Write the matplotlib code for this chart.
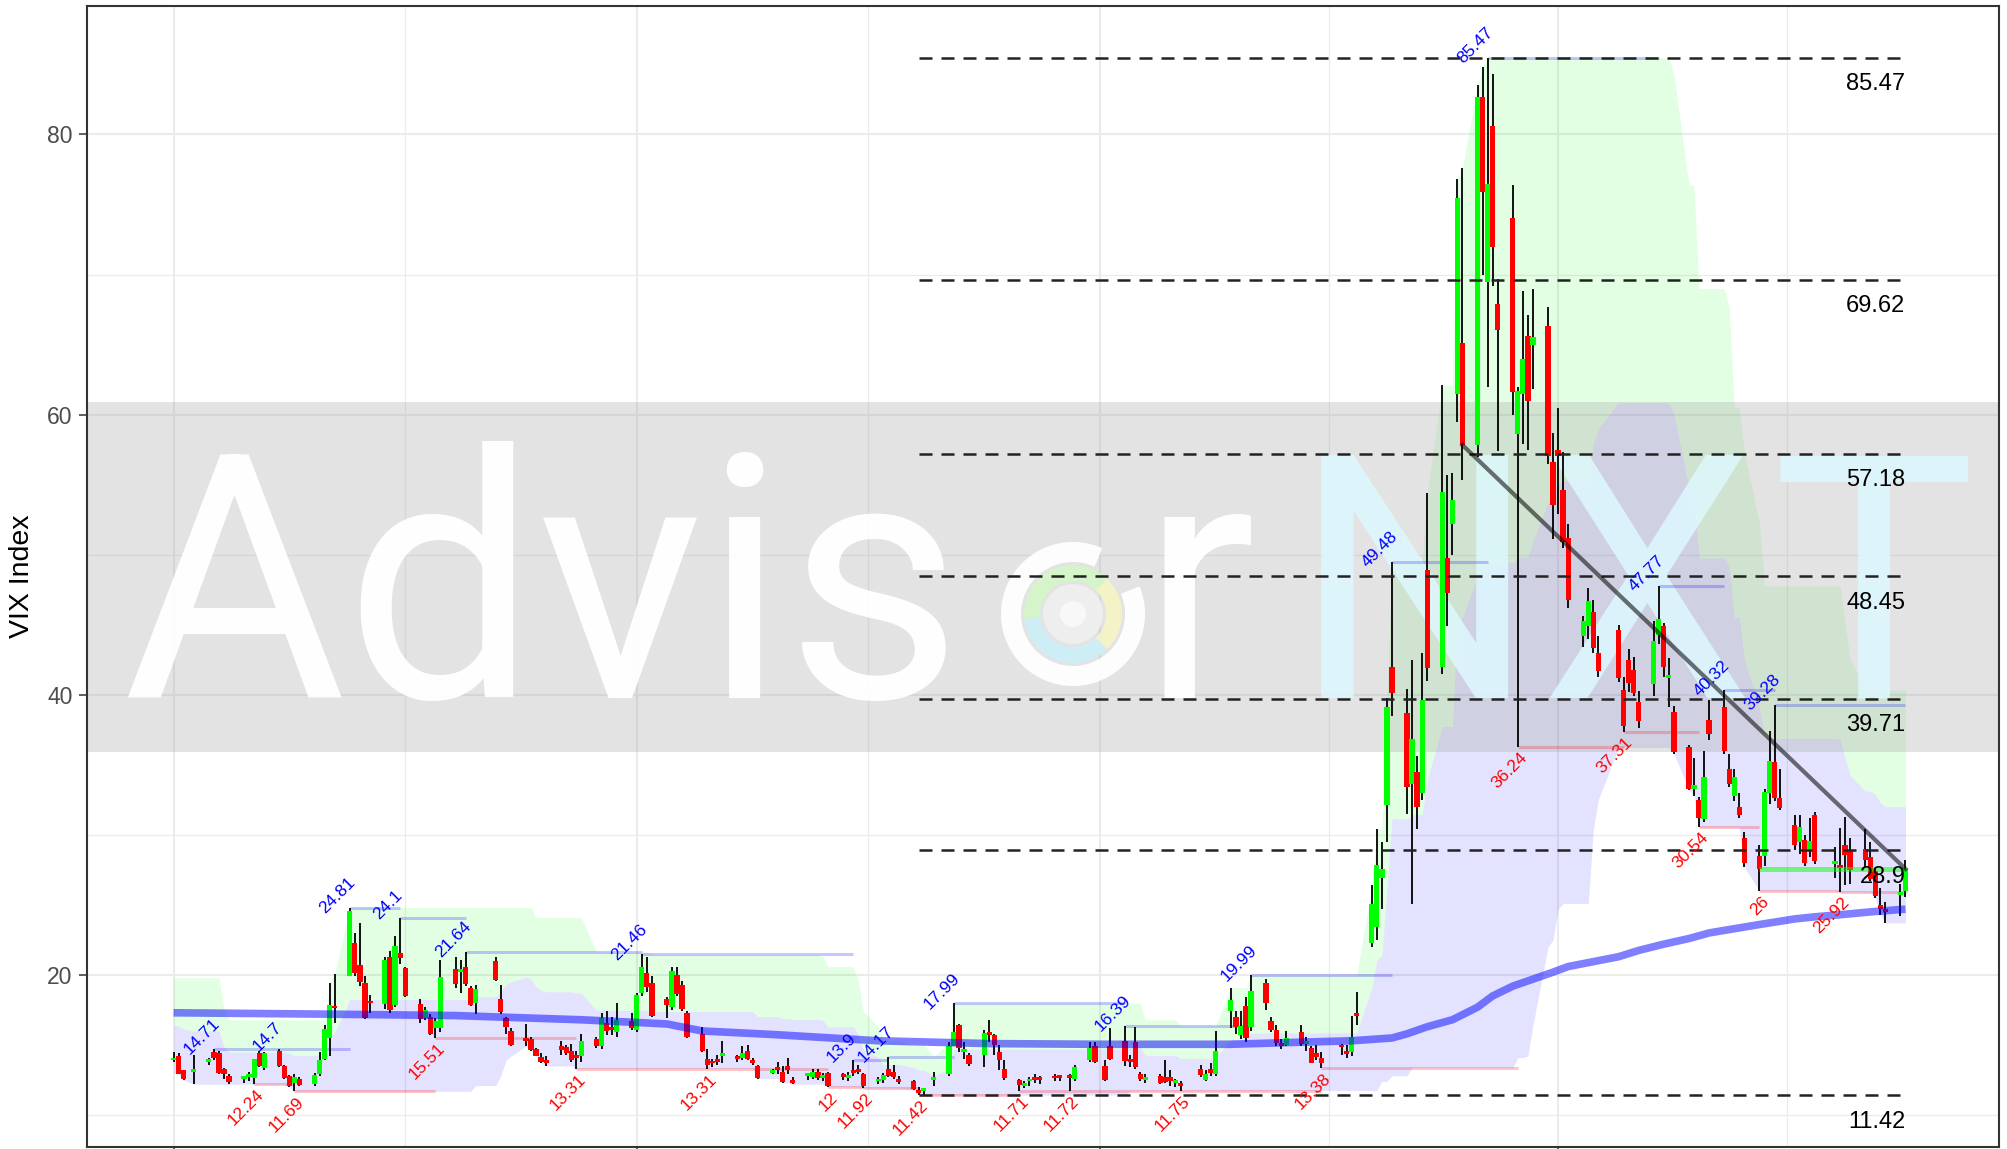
import numpy as np
import pandas as pd
import matplotlib
matplotlib.use("Agg")
import matplotlib.pyplot as plt
import matplotlib.dates as mdates
from matplotlib.patches import Ellipse, Arc

plt.rcParams["font.family"] = ["Liberation Sans", "DejaVu Sans"]

# ===============================
# DATA (VIX daily OHLC)
# ===============================
first_day = "2019-07-01"
last_day = "2020-06-09"
holidays = ["2019-07-04", "2019-09-02", "2019-11-28", "2019-12-25", "2020-01-01",
            "2020-01-20", "2020-02-17", "2020-04-10", "2020-05-25"]

opens = [
    13.90, 14.20, 13.20, 13.10, 13.80, 14.49, 14.45, 13.30, 12.80, 12.60, 12.70, 12.66, 14.44, 13.37, 14.56, 13.50, 12.77, 12.30, 12.59, 12.20, 12.90, 13.97,
    15.51, 17.80, 19.95, 22.30, 20.70, 19.40, 18.10, 17.90, 21.30, 17.85, 21.60, 20.50, 17.96, 16.90, 17.00, 16.20, 16.20, 20.40, 20.20, 20.60, 19.10, 18.00,
    21.00, 18.30, 16.94, 15.98, 15.45, 15.45, 14.70, 14.16, 13.90, 14.90, 14.85, 14.55, 14.30, 14.20, 15.40, 14.90, 16.60, 16.10, 15.90, 16.70,
    16.10, 18.70, 20.15, 19.40, 18.30, 17.70, 20.00, 19.30, 17.30, 15.80, 14.00, 13.75, 13.90, 14.20, 14.10, 14.10, 14.60, 13.90, 13.50, 13.00, 13.25, 13.10, 13.50,
    12.50, 12.80, 12.70, 13.10, 12.65, 13.00, 12.90, 12.65, 13.10, 13.30, 12.95, 12.40, 12.50, 13.30, 13.10, 12.60, 12.40, 11.80, 11.70, 12.50,
    12.90, 14.95, 16.40, 14.50, 14.30, 14.30, 15.90, 15.70, 14.50, 13.30, 12.50, 12.10, 12.40, 12.60, 12.55, 12.70, 12.70, 12.70, 12.60, 13.90, 14.90,
    13.50, 14.90, 15.30, 13.90, 15.20, 12.90, 12.50, 12.80, 12.75, 12.70, 12.30, 12.20, 13.30, 12.50, 13.30, 12.90, 17.40, 17.00, 15.70, 17.80, 16.30,
    19.40, 16.70, 16.10, 15.10, 15.00, 15.90, 15.10, 14.80, 14.40, 14.10, 14.90, 14.60, 14.50, 17.20, 22.30, 23.40, 26.90, 32.10, 41.95,
    38.70, 33.60, 34.50, 33.00, 48.90, 41.95, 49.80, 52.20, 61.50, 65.10, 57.80, 82.70, 69.50, 80.60, 67.90, 74.05, 58.60, 61.45, 65.60, 65.00, 66.30, 56.60,
    57.50, 54.60, 51.20, 44.20, 44.90, 45.90, 43.00, 44.60, 40.34, 42.50, 41.80, 39.50, 40.80, 44.30, 44.90, 41.20, 38.80, 36.30, 33.30, 32.50, 31.10,
    38.20, 39.10, 34.70, 32.80, 32.00, 29.80, 28.50, 28.50, 33.00, 35.20, 32.60, 30.70, 29.50, 29.60, 29.00, 31.40, 27.90, 27.70, 29.30, 28.90,
    29.00, 28.40, 27.40, 25.00, 24.60, 25.70, 26.00,
]
highs = [
    14.50, 14.44, 13.25, 14.30, 14.05, 14.71, 14.60, 13.35, 12.90, 12.80, 13.10, 14.00, 14.56, 14.50, 14.70, 13.60, 12.85, 12.90, 12.70, 13.00, 14.50, 16.40,
    19.40, 20.10, 24.81, 23.00, 23.70, 19.90, 18.60, 21.30, 21.70, 22.76, 24.10, 20.60, 18.25, 17.70, 17.20, 16.90, 21.10, 21.30, 21.10, 21.64, 19.20, 19.30,
    21.30, 19.30, 17.00, 16.20, 16.50, 15.60, 14.80, 14.40, 14.20, 15.30, 15.00, 15.10, 14.60, 15.80, 15.60, 17.30, 17.40, 17.00, 18.00, 17.30,
    18.70, 21.46, 21.30, 19.90, 18.40, 20.60, 20.60, 19.60, 17.40, 16.30, 14.70, 14.00, 14.30, 15.30, 14.30, 14.90, 15.00, 14.10, 13.60, 13.30, 13.80, 13.50, 14.10,
    12.70, 13.00, 13.30, 13.30, 13.00, 13.10, 13.00, 13.10, 13.90, 13.60, 13.00, 12.70, 13.00, 14.17, 13.60, 12.80, 12.50, 12.00, 11.80, 13.10,
    15.20, 17.99, 16.50, 15.20, 14.40, 16.10, 16.80, 15.80, 15.00, 13.90, 12.60, 12.40, 12.70, 12.90, 12.80, 12.90, 12.80, 12.90, 13.60, 15.20, 15.20,
    13.90, 16.20, 16.39, 14.30, 16.30, 13.10, 12.90, 12.90, 13.90, 13.20, 12.60, 12.40, 13.60, 13.20, 13.70, 16.00, 19.10, 17.40, 17.40, 18.40, 19.99,
    19.70, 17.00, 16.40, 15.40, 16.00, 16.40, 15.60, 14.90, 15.00, 14.50, 15.10, 15.00, 17.10, 18.80, 26.40, 30.40, 29.50, 39.80, 49.48,
    40.40, 42.50, 35.60, 43.00, 54.40, 62.10, 55.70, 55.80, 76.80, 77.60, 83.56, 84.80, 85.47, 84.30, 69.70, 76.40, 62.00, 68.80, 67.10, 69.00, 67.70, 58.70,
    60.50, 57.30, 52.20, 45.60, 47.60, 46.80, 44.20, 45.00, 41.30, 43.30, 42.70, 40.30, 45.30, 47.77, 45.10, 42.60, 39.20, 36.40, 35.50, 32.70, 36.00,
    39.60, 40.32, 35.80, 34.70, 33.00, 30.20, 29.30, 33.30, 37.40, 39.28, 34.70, 31.40, 31.40, 30.00, 31.20, 31.60, 29.10, 30.50, 31.30, 29.80,
    30.40, 29.50, 27.60, 26.20, 25.20, 26.50, 28.20,
]
lows = [
    13.75, 12.90, 12.50, 12.20, 13.55, 13.90, 12.90, 12.60, 12.25, 12.30, 12.40, 12.24, 13.40, 13.20, 13.40, 12.55, 12.00, 11.69, 12.10, 12.10, 12.80, 13.90,
    14.20, 16.60, 19.90, 19.90, 19.20, 16.87, 17.30, 17.60, 17.30, 17.70, 20.80, 18.40, 16.60, 16.80, 15.70, 15.51, 15.90, 19.10, 18.70, 19.20, 17.80, 17.20,
    19.60, 17.20, 15.80, 14.90, 14.90, 14.60, 14.20, 13.70, 13.50, 14.30, 14.30, 13.80, 13.31, 13.80, 14.80, 14.70, 15.70, 15.70, 15.60, 16.10,
    15.90, 18.50, 18.80, 17.00, 16.90, 17.50, 18.50, 17.40, 15.50, 14.50, 13.31, 13.40, 13.60, 13.70, 13.80, 13.90, 13.90, 13.60, 12.60, 12.90, 12.90, 12.30, 12.90,
    12.20, 12.50, 12.60, 12.50, 12.40, 12.00, 12.50, 12.40, 12.80, 12.90, 11.92, 12.20, 12.30, 12.70, 12.60, 12.20, 11.80, 11.42, 11.45, 12.10,
    12.80, 14.90, 14.50, 14.00, 13.50, 13.40, 15.20, 14.30, 13.20, 12.50, 11.71, 11.90, 12.10, 12.30, 12.20, 12.40, 12.40, 11.72, 12.40, 13.80, 13.70,
    12.40, 13.90, 13.50, 13.40, 13.30, 12.40, 12.30, 12.20, 12.30, 12.10, 12.00, 11.75, 12.70, 12.40, 12.80, 12.80, 16.20, 15.80, 15.40, 15.20, 16.00,
    17.50, 15.90, 14.90, 14.70, 14.90, 14.90, 14.60, 13.70, 13.90, 13.38, 14.30, 14.10, 14.20, 16.40, 22.00, 22.50, 24.70, 29.50, 38.50,
    31.50, 25.10, 30.40, 32.50, 41.00, 41.50, 44.90, 50.00, 59.50, 55.30, 57.00, 70.00, 62.00, 69.20, 57.40, 60.00, 36.24, 57.90, 57.50, 61.80, 56.50, 51.10,
    52.90, 50.50, 46.20, 43.40, 44.00, 43.00, 41.30, 40.90, 37.31, 40.20, 39.90, 37.60, 39.90, 43.60, 41.30, 39.10, 35.80, 33.20, 32.80, 30.54, 30.90,
    36.80, 35.80, 33.40, 32.40, 31.20, 27.70, 26.00, 27.80, 32.20, 32.40, 31.80, 28.90, 28.60, 27.80, 28.40, 27.90, 26.90, 25.92, 26.40, 26.50,
    27.60, 26.70, 25.50, 24.30, 23.72, 24.20, 25.60,
]
closes = [
    14.06, 12.93, 12.57, 13.28, 13.96, 14.09, 13.03, 12.93, 12.39, 12.68, 12.86, 13.97, 13.53, 14.45, 13.53, 12.61, 12.07, 12.74, 12.16, 12.83, 13.94, 16.12,
    17.87, 17.61, 24.59, 20.17, 19.49, 16.91, 17.97, 21.09, 17.52, 22.10, 21.18, 18.47, 16.88, 17.50, 15.80, 16.68, 19.87, 19.32, 20.31, 19.35, 17.88, 18.98,
    19.66, 17.33, 16.27, 15.00, 15.27, 14.61, 14.22, 13.80, 13.74, 14.67, 14.44, 13.95, 14.05, 15.32, 14.91, 16.90, 16.00, 16.05, 16.75, 16.20,
    18.56, 20.56, 19.12, 17.04, 17.86, 20.28, 18.64, 17.57, 15.58, 14.57, 13.54, 13.68, 13.79, 14.25, 14.00, 14.46, 14.01, 13.71, 12.65, 13.11, 13.20, 12.33, 13.22,
    12.30, 12.83, 13.10, 12.62, 12.73, 12.07, 12.69, 12.68, 13.00, 13.05, 12.05, 12.46, 12.86, 12.78, 12.72, 12.34, 11.87, 11.54, 11.75, 12.62,
    14.91, 15.96, 14.80, 14.52, 13.62, 15.86, 15.68, 14.99, 13.94, 12.63, 12.14, 12.29, 12.58, 12.50, 12.51, 12.61, 12.67, 12.65, 13.43, 14.82, 13.78,
    12.47, 14.02, 13.85, 13.79, 13.45, 12.54, 12.56, 12.32, 12.39, 12.42, 12.32, 12.10, 12.85, 12.91, 12.98, 14.56, 18.23, 16.28, 16.39, 15.49, 18.84,
    17.97, 16.05, 15.15, 14.96, 15.47, 15.04, 15.18, 13.74, 14.15, 13.68, 14.83, 14.38, 15.56, 17.08, 25.03, 27.85, 27.56, 39.16, 40.11,
    33.42, 36.82, 31.99, 39.62, 41.94, 54.46, 47.30, 53.90, 75.47, 57.83, 82.69, 75.91, 76.45, 72.00, 66.04, 61.59, 61.67, 63.95, 61.00, 65.54, 57.08, 53.54,
    57.06, 50.91, 46.80, 45.24, 46.70, 43.35, 41.67, 41.17, 37.76, 40.84, 40.11, 38.15, 43.83, 45.41, 41.98, 41.38, 35.93, 33.29, 33.57, 31.23, 34.15,
    37.19, 35.97, 33.61, 34.12, 31.44, 27.98, 27.57, 33.04, 35.28, 32.61, 31.89, 29.30, 30.53, 27.99, 29.53, 28.16, 28.01, 27.62, 28.59, 27.51,
    28.23, 26.84, 25.66, 24.68, 24.52, 25.81, 27.57,
]

# highs / lows of the 25 sessions before the first plotted day (band warm-up)
pre_highs = [16.9, 18.2, 18.4, 17.6, 19.0, 19.5, 19.8, 17.6, 16.5, 16.6, 16.6, 16.3, 16.4,
             16.2, 16.3, 16.2, 16.0, 15.6, 15.3, 15.9, 15.6, 16.8, 16.7, 16.5, 16.0]
pre_lows = [15.5, 16.0, 16.3, 16.2, 17.0, 17.8, 16.5, 15.6, 15.4, 15.2, 15.5, 15.1, 15.3,
            15.0, 14.8, 14.6, 14.7, 13.9, 13.7, 14.3, 14.6, 14.9, 15.3, 14.8, 13.0]
band_window = 26

# long moving average
ma_dates = ["2019-07-01", "2019-08-01", "2019-08-26", "2019-09-20", "2019-10-07", "2019-10-14",
            "2019-10-28", "2019-11-18", "2019-12-10", "2020-01-01", "2020-01-27", "2020-02-10",
            "2020-02-20", "2020-02-28", "2020-03-02", "2020-03-06", "2020-03-11", "2020-03-16",
            "2020-03-19", "2020-03-23", "2020-03-27", "2020-03-31", "2020-04-03", "2020-04-08",
            "2020-04-13", "2020-04-17", "2020-04-22", "2020-04-27", "2020-05-01", "2020-05-06",
            "2020-05-11", "2020-05-18", "2020-05-22", "2020-05-27", "2020-06-02", "2020-06-09"]
ma_values = [17.3, 17.2, 17.1, 16.8, 16.5, 16.0, 15.75, 15.3, 15.1, 15.05, 15.05, 15.2,
             15.3, 15.5, 15.8, 16.3, 16.8, 17.7, 18.5, 19.2, 19.7, 20.2, 20.6, 20.95,
             21.3, 21.75, 22.2, 22.6, 23.0, 23.3, 23.6, 24.0, 24.15, 24.3, 24.5, 24.7]

# swing points
swing_high_dates = ["2019-07-09", "2019-07-22", "2019-08-05", "2019-08-15", "2019-08-28", "2019-10-02",
                    "2019-11-13", "2019-11-20", "2019-12-03", "2020-01-06", "2020-01-31", "2020-02-28",
                    "2020-03-18", "2020-04-21", "2020-05-04", "2020-05-14"]
swing_low_dates = ["2019-07-17", "2019-07-25", "2019-08-22", "2019-09-19", "2019-10-15", "2019-11-08",
                   "2019-11-15", "2019-11-26", "2019-12-16", "2019-12-26", "2020-01-17", "2020-02-14",
                   "2020-03-24", "2020-04-14", "2020-04-29", "2020-05-11", "2020-05-27"]

fib_ratios = [0.0, 0.236, 0.382, 0.5, 0.618, 0.786, 1.0]
trend_dates = ["2020-03-13", "2020-06-09"]
close_line_start = "2020-05-11"

# ===============================
# PREP
# ===============================
dates = pd.bdate_range(first_day, last_day, freq="C", holidays=holidays)
assert len(dates) == len(opens) == len(highs) == len(lows) == len(closes)
df = pd.DataFrame({"open": opens, "high": highs, "low": lows, "close": closes}, index=dates)
x = mdates.date2num(dates.to_pydatetime())

hh = pd.Series(pre_highs + highs).rolling(band_window).max().iloc[len(pre_highs):].values
ll = pd.Series(pre_lows + lows).rolling(band_window).min().iloc[len(pre_lows):].values
mid = (hh + ll) / 2

lo, hi = df["low"].min(), df["high"].max()
span_y = hi - lo


def num(d):
    return mdates.date2num(pd.Timestamp(d).to_pydatetime())


def fmt(v):
    return "%g" % round(v + 1e-9, 2)


# ===============================
# FIGURE
# ===============================
fig = plt.figure(figsize=(20.07, 11.49), dpi=100)
ax = fig.add_axes([87 / 2007, 2 / 1149, 1912 / 2007, 1141 / 1149])
AX_W, AX_H = 1912, 1141


def axfrac(px, py):
    return (px - 87) / AX_W, (1147 - py) / AX_H


# channel fills
ax.fill_between(x, mid, hh, color="#00FF00", alpha=0.11, lw=0, zorder=1)
ax.fill_between(x, ll, mid, color="#0000FF", alpha=0.11, lw=0, zorder=1)

# watermark band + text
ax.axhspan(35.9, 60.9, color="#A8A8A8", alpha=0.32, lw=0, zorder=2)
wm = dict(transform=ax.transAxes, fontsize=246, family=["Roboto", "DejaVu Sans"],
          fontweight="normal", va="baseline", ha="left", zorder=2.6, clip_on=True)
ax.text(*axfrac(122, 698), "Advis", color="white", alpha=0.97, **wm)
ax.text(*axfrac(1140, 698), "r", color="white", alpha=0.97, **wm)
for ch, px in [("N", 1293), ("X", 1539), ("T", 1772)]:
    ax.text(*axfrac(px, 698), ch, color="#DDF9FF", alpha=0.85, **wm)
cx, cy = axfrac(1073, 614)


def ring(r, lw_px, color, t1=0, t2=360, alpha=0.95):
    ax.add_patch(Arc((cx, cy), 2 * r / AX_W, 2 * r / AX_H, theta1=t1, theta2=t2,
                     lw=lw_px * 0.72, color=color, alpha=alpha, transform=ax.transAxes, zorder=2.7))


ring(62, 20, "white", 75, 395)
ring(41, 16, "#D6F5C8", 60, 190)
ring(41, 16, "#CDEFF7", 190, 300)
ring(41, 16, "#F4F4C6", 300, 420)
ax.add_patch(Ellipse((cx, cy), 2 * 30 / AX_W, 2 * 30 / AX_H, color="#EEEEEE",
                     transform=ax.transAxes, zorder=2.7, lw=0))
ax.add_patch(Ellipse((cx, cy), 2 * 13 / AX_W, 2 * 13 / AX_H, color="#F8F8F8",
                     transform=ax.transAxes, zorder=2.75, lw=0))

# swing lines + labels
sh = [pd.Timestamp(d) for d in swing_high_dates]
sl = [pd.Timestamp(d) for d in swing_low_dates]
for pts, col, key in [(sh, "#0000FF", "high"), (sl, "#FF0000", "low")]:
    for i, d in enumerate(pts):
        v = df.loc[d, key]
        end = pts[i + 1] if i + 1 < len(pts) else dates[-1]
        ax.hlines(v, num(d), num(end), color=col, alpha=0.22, lw=2.2, zorder=3)
        if key == "high":
            ax.annotate(fmt(v), (num(d), v), xytext=(-5, 5), textcoords="offset points",
                        rotation=45, rotation_mode="anchor", ha="center", va="bottom",
                        color=col, fontsize=12.5, zorder=8)
        else:
            ax.annotate(fmt(v), (num(d), v), xytext=(1, -2), textcoords="offset points",
                        rotation=45, rotation_mode="anchor", ha="right", va="top",
                        color=col, fontsize=12.5, zorder=8)

# candles
o, h, l, c = (df[k].values for k in ["open", "high", "low", "close"])
body_col = np.where(c >= o, "#00FF00", "#FF0000")
ax.vlines(x, l, h, color="black", lw=1.3, zorder=4)
ax.bar(x, np.maximum(np.abs(c - o), 0.2), bottom=np.minimum(o, c), width=1.05,
       color=body_col, lw=0, zorder=4.5)

# moving average
ax.plot(pd.to_datetime(ma_dates), ma_values, color="#0000FF", alpha=0.5, lw=5.5,
        solid_capstyle="butt", solid_joinstyle="round", zorder=5)

# fibonacci levels from the lowest low to the end
x_start = num(df["low"].idxmin())
for r in fib_ratios:
    lvl = lo + r * span_y
    ax.hlines(lvl, x_start, x[-1], color="#222222", lw=1.8, linestyles=(0, (5.2, 3.6)), zorder=6)
    ax.annotate(fmt(lvl), (x[-1], lvl), xytext=(0, -19), textcoords="offset points",
                ha="right", va="center", fontsize=17, color="black", zorder=8)

# trend line and last-close line
t0, t1 = pd.Timestamp(trend_dates[0]), pd.Timestamp(trend_dates[1])
ax.plot([num(t0), num(t1)], [df.loc[t0, "close"], df.loc[t1, "close"]],
        color="black", alpha=0.55, lw=3, zorder=6)
ax.hlines(c[-1], num(close_line_start), x[-1], color="#00FF00", alpha=0.5, lw=3.6, zorder=5)

# ===============================
# AXES STYLE
# ===============================
ax.set_xlim(x[0] - 0.05 * (x[-1] - x[0]), x[-1] + 0.054 * (x[-1] - x[0]))
ax.set_ylim(lo - 0.05 * span_y, hi + 0.05 * span_y)

major_x = [num(d) for d in ["2019-07-01", "2019-10-01", "2020-01-01", "2020-04-01"]]
minor_x = [(a + b) / 2 for a, b in zip(major_x[:-1], major_x[1:])]
minor_x.append(major_x[-1] + (major_x[-1] - major_x[-2]) / 2)
ax.set_xticks(major_x)
ax.set_xticks(minor_x, minor=True)
ax.set_xticklabels([""] * len(major_x))
ax.set_yticks([20, 40, 60, 80])
ax.set_yticks([10, 30, 50, 70], minor=True)

ax.grid(which="major", color="#EBEBEB", lw=1.5)
ax.grid(which="minor", color="#EBEBEB", lw=0.9)
ax.set_axisbelow(True)
ax.tick_params(which="major", length=5.5, width=1.1, color="#333333", pad=5,
               labelsize=16.5, labelcolor="#4D4D4D")
ax.tick_params(which="minor", length=0)
for s in ax.spines.values():
    s.set_color("#333333")
    s.set_linewidth(1.5)
    s.set_zorder(10)

ax.set_ylabel("VIX Index", fontsize=20.5, va="center")
ax.yaxis.set_label_coords((22 - 87) / AX_W, 0.5)

fig.savefig("out.png", dpi=100)
